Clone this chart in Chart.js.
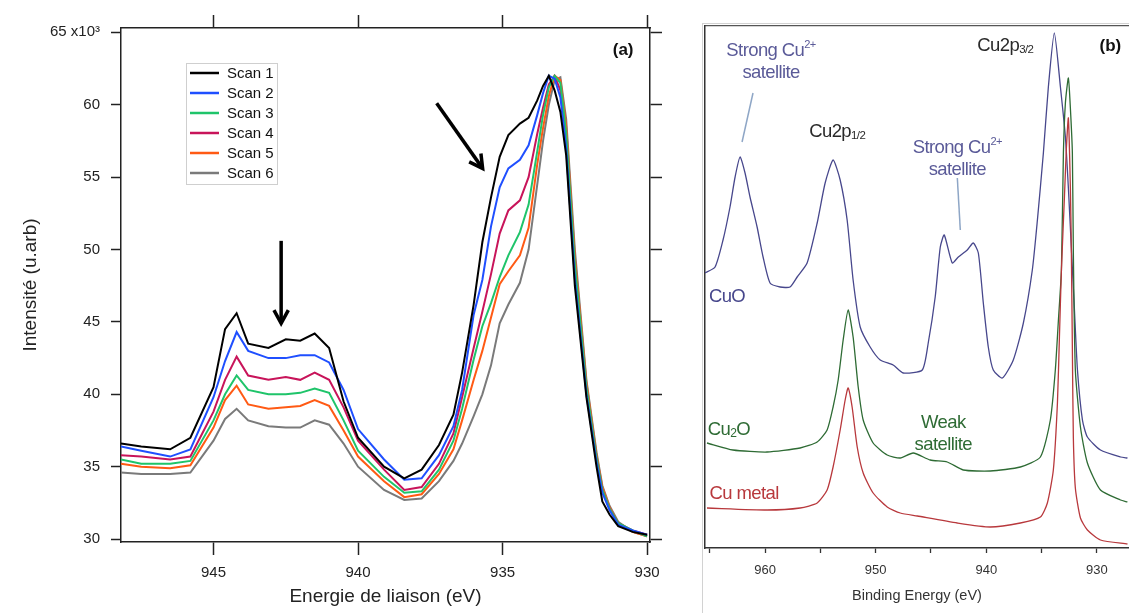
<!DOCTYPE html>
<html>
<head>
<meta charset="utf-8">
<script src="https://cdn.jsdelivr.net/npm/chart.js@4.4.1/dist/chart.umd.min.js"></script>
<style>
  html, body { margin: 0; padding: 0; background: #fff; }
  #wrap { position: relative; width: 1129px; height: 613px; overflow: hidden; }
  #chartA { position: absolute; left: 0; top: 0; }
  #frameB { position: absolute; left: 702px; top: 23px; width: 440px; height: 600px;
            border-left: 1px solid #d2d2d2; border-top: 1px solid #d2d2d2; }
  #chartB { position: absolute; left: 690px; top: 0; }
</style>
</head>
<body>
<div id="wrap">
  <canvas id="chartA" width="690" height="613"></canvas>
  <div id="frameB"></div>
  <canvas id="chartB" width="439" height="613"></canvas>
</div>
<script>
// ---- panel (a) : Cu2p spectra, 6 scans (intensity in x10^3) ----
const energyA = [948.2, 947.5, 946.5, 945.8, 945.0, 944.6, 944.2, 943.8, 943.1, 942.5, 942.0, 941.5, 941.0, 940.5,
  940.0, 939.1, 938.4, 937.8, 937.2, 936.7, 936.4, 936.0, 935.7, 935.4, 935.1, 934.8, 934.4, 934.1, 933.8, 933.6,
  933.4, 933.2, 933.0, 932.8, 932.5, 932.1, 931.75, 931.55, 931.3, 931.0, 930.5, 930.0];

const scan1 = [36.6, 36.4, 36.2, 37.0, 40.5, 44.5, 45.6, 43.5, 43.2, 43.8, 43.7, 44.2, 43.2, 39.5,
  37.0, 35.0, 34.2, 34.8, 36.5, 38.6, 41.5, 46.2, 50.5, 53.6, 56.4, 57.9, 58.7, 59.1, 60.3, 61.3,
  62.0, 61.0, 59.5, 56.5, 47.5, 39.8, 35.0, 32.6, 31.7, 30.9, 30.5, 30.3];
const scan2 = [36.4, 36.1, 35.7, 36.2, 39.8, 42.3, 44.3, 43.0, 42.5, 42.5, 42.7, 42.7, 42.2, 40.3,
  37.6, 35.5, 34.1, 34.2, 35.8, 37.8, 40.3, 45.5, 47.9, 51.6, 54.3, 55.6, 56.2, 57.2, 59.3, 60.8,
  62.0, 61.8, 60.5, 57.0, 48.0, 40.0, 35.3, 33.2, 32.0, 31.0, 30.6, 30.3];
const scan3 = [35.5, 35.2, 35.2, 35.4, 38.2, 40.0, 41.3, 40.3, 40.0, 40.0, 40.1, 40.4, 40.1, 38.2,
  36.1, 34.3, 33.2, 33.3, 34.8, 36.8, 39.0, 42.4, 44.7, 46.3, 48.1, 49.6, 51.2, 53.1, 56.8, 59.3,
  61.2, 62.0, 61.5, 58.0, 49.0, 40.5, 35.6, 33.4, 32.1, 31.1, 30.6, 30.2];
const scan4 = [35.8, 35.7, 35.5, 35.7, 38.8, 41.0, 42.6, 41.3, 41.0, 41.2, 41.0, 41.5, 41.0, 39.1,
  36.8, 34.8, 33.4, 33.6, 35.2, 37.3, 39.8, 43.2, 45.7, 48.3, 51.1, 52.7, 53.4, 55.0, 58.0, 59.8,
  61.4, 62.0, 61.0, 57.5, 48.5, 40.2, 35.5, 33.4, 32.1, 31.1, 30.6, 30.3];
const scan5 = [35.2, 35.0, 34.9, 35.1, 37.7, 39.6, 40.6, 39.3, 39.0, 39.1, 39.2, 39.6, 39.2, 37.5,
  35.7, 34.0, 32.9, 33.1, 34.5, 36.2, 38.2, 41.0, 43.0, 45.3, 47.6, 48.5, 49.6, 51.5, 55.9, 58.4,
  60.6, 62.0, 61.7, 58.5, 49.5, 40.8, 35.8, 33.6, 32.2, 31.1, 30.5, 30.2];
const scan6 = [34.6, 34.5, 34.5, 34.6, 36.8, 38.3, 39.0, 38.2, 37.8, 37.7, 37.7, 38.2, 37.9, 36.6,
  35.0, 33.4, 32.7, 32.8, 34.0, 35.4, 36.6, 38.5, 40.0, 42.0, 44.9, 46.2, 47.7, 50.0, 54.5, 57.5,
  60.0, 61.7, 61.9, 59.0, 50.0, 41.0, 36.0, 33.7, 32.3, 31.2, 30.5, 30.2];

const scanLabels = ['Scan 1', 'Scan 2', 'Scan 3', 'Scan 4', 'Scan 5', 'Scan 6'];
const scanColors = ['#000000', '#1f4fff', '#1fc46a', '#c8145a', '#ff5a14', '#7a7a7a'];
const ticksAx = [945, 940, 935, 930];
const ticksAy = [30, 35, 40, 45, 50, 55, 60, 65];

// arrows drawn in data units (eV, x10^3)
const arrowsA = [
  { from: [942.66, 50.6], to: [942.66, 44.9] },
  { from: [937.28, 60.1], to: [935.69, 55.6] }
];

// ---- panel (b) : reference spectra (arbitrary units) ----
const energyCuO = [965.43, 964.52, 963.80, 963.17, 962.71, 962.26, 961.81, 961.36, 960.72, 960.18, 959.55, 958.64,
  957.74, 957.10, 956.20, 955.29, 954.57, 953.85, 953.21, 952.58, 952.04, 951.40, 950.50, 949.59, 948.42, 947.51,
  945.79, 945.25, 944.62, 944.16, 943.80, 943.08, 942.53, 941.72, 941.18, 940.72, 940.27, 939.82, 939.37, 938.55,
  937.56, 936.65, 935.84, 935.38, 934.84, 934.39, 933.85, 933.30, 932.85, 932.58, 932.31, 932.04, 931.76, 931.31,
  930.86, 929.68, 927.87, 927.24];
const valuesCuO = [275, 281, 308, 341, 371, 391, 375, 351, 321, 291, 265, 261,
  261, 271, 285, 325, 365, 388, 368, 328, 268, 221, 201, 188, 183, 175,
  178, 205, 251, 301, 313, 285, 291, 298, 305, 295, 245, 201, 178, 170,
  188, 225, 278, 328, 395, 461, 515, 461, 411, 360, 300, 240, 178, 128,
  111, 98, 91, 90];
const energyCu2O = [965.25, 962.90, 959.82, 956.83, 955.29, 954.39, 953.85, 953.39, 952.94, 952.49, 952.04, 951.58,
  951.13, 950.23, 948.96, 947.78, 946.61, 945.07, 943.53, 942.08, 939.64, 936.92, 935.11, 934.21, 933.76, 933.48,
  933.21, 933.03, 932.85, 932.58, 932.40, 932.22, 932.13, 931.95, 931.49, 930.86, 929.68, 927.87, 927.24];
const valuesCu2O = [105, 98, 96, 100, 106, 118, 141, 168, 208, 238, 211, 161,
  128, 105, 93, 90, 95, 88, 86, 78, 77, 81, 91, 128, 178, 228,
  278, 395, 445, 470, 440, 395, 295, 178, 121, 85, 58, 48, 46];
const energyCu = [965.25, 959.82, 956.83, 955.29, 954.39, 953.85, 953.21, 952.76, 952.49, 952.13, 951.67, 951.13,
  950.23, 948.96, 947.78, 946.24, 942.62, 939.64, 936.92, 935.11, 934.48, 933.94, 933.57, 933.39, 933.21, 932.94,
  932.76, 932.58, 932.40, 932.31, 932.22, 932.13, 931.95, 931.49, 930.86, 929.68, 927.24];
const valuesCu = [40, 38, 40, 45, 58, 81, 118, 148, 160, 141, 101, 75,
  55, 41, 35, 32, 25, 21, 25, 31, 45, 78, 145, 211, 278, 350,
  400, 430, 360, 295, 200, 110, 60, 30, 18, 8, 4];
const ticksBx = [965, 960, 955, 950, 945, 940, 935, 930];
const labeledBx = [960, 950, 940, 930];

const PURPLE = '#47478c', GREEN = '#2e6b34', RED = '#b8383c';

// text notes of panel (b): parts = [text, size factor, dy]
const notesB = [
  { parts: [['Strong Cu', 1, 0], ['2+', 0.6, -6]], x: 959.46, y: 497, color: '#5a5a98' },
  { parts: [['satellite', 1, 0]], x: 959.46, y: 475, color: '#5a5a98' },
  { parts: [['Cu2p', 1, 0], ['1/2', 0.62, 4]], x: 953.48, y: 416, color: '#2a2a2a' },
  { parts: [['Strong Cu', 1, 0], ['2+', 0.6, -6]], x: 942.62, y: 400, color: '#5a5a98' },
  { parts: [['satellite', 1, 0]], x: 942.62, y: 378, color: '#5a5a98' },
  { parts: [['Cu2p', 1, 0], ['3/2', 0.62, 4]], x: 938.28, y: 502, color: '#2a2a2a' },
  { parts: [['CuO', 1, 0]], x: 963.44, y: 251, color: PURPLE },
  { parts: [['Cu', 1, 0], ['2', 0.65, 4], ['O', 1, 0]], x: 963.26, y: 118, color: GREEN },
  { parts: [['Weak', 1, 0]], x: 943.89, y: 125, color: GREEN },
  { parts: [['satellite', 1, 0]], x: 943.89, y: 103, color: GREEN },
  { parts: [['Cu metal', 1, 0]], x: 961.9, y: 54, color: RED }
];
const leadersB = [
  { from: [961.09, 455], to: [962.08, 406] },
  { from: [942.62, 370], to: [942.35, 318] }
];

Chart.defaults.font.family = '"Liberation Sans", Arial, sans-serif';
const FONT = '"Liberation Sans", Arial, sans-serif';

function toPoints(xs, ys) {
  return xs.map((e, i) => ({ x: e, y: ys[i] }));
}

function drawRich(ctx, parts, cx, cy, color, base) {
  ctx.letterSpacing = '-0.6px';
  let w = 0;
  parts.forEach(p => { ctx.font = (base * p[1]) + 'px ' + FONT; w += ctx.measureText(p[0]).width; });
  let x = cx - w / 2;
  ctx.fillStyle = color;
  ctx.textAlign = 'left';
  ctx.textBaseline = 'middle';
  parts.forEach(p => {
    ctx.font = (base * p[1]) + 'px ' + FONT;
    ctx.fillText(p[0], x, cy + p[2]);
    x += ctx.measureText(p[0]).width;
  });
  ctx.letterSpacing = '0px';
}

// legend box inside panel (a)
const legendBox = {
  id: 'legendBox',
  afterDatasetsDraw(chart) {
    const { ctx, chartArea } = chart;
    const x0 = chartArea.left + 65, y0 = chartArea.top + 35;
    ctx.save();
    ctx.fillStyle = '#fff';
    ctx.fillRect(x0, y0, 91, 121);
    ctx.strokeStyle = '#cfcfcf';
    ctx.lineWidth = 1;
    ctx.strokeRect(x0 + 0.5, y0 + 0.5, 91, 121);
    chart.data.datasets.forEach((ds, i) => {
      const y = y0 + 10 + i * 20;
      ctx.strokeStyle = ds.borderColor;
      ctx.lineWidth = 2.5;
      ctx.beginPath();
      ctx.moveTo(x0 + 4, y);
      ctx.lineTo(x0 + 33, y);
      ctx.stroke();
      ctx.fillStyle = '#111';
      ctx.font = '15px ' + FONT;
      ctx.textAlign = 'left';
      ctx.textBaseline = 'middle';
      ctx.fillText(ds.label, x0 + 41, y + 1);
    });
    ctx.restore();
  }
};

// arrows + "(a)"
const notesA = {
  id: 'notesA',
  afterDatasetsDraw(chart) {
    const { ctx, scales: { x, y } } = chart;
    ctx.save();
    ctx.strokeStyle = '#000';
    ctx.lineWidth = 3.5;
    arrowsA.forEach(a => {
      const x1 = x.getPixelForValue(a.from[0]), y1 = y.getPixelForValue(a.from[1]);
      const x2 = x.getPixelForValue(a.to[0]), y2 = y.getPixelForValue(a.to[1]);
      const ang = Math.atan2(y2 - y1, x2 - x1);
      ctx.beginPath();
      ctx.moveTo(x1, y1);
      ctx.lineTo(x2 - Math.cos(ang), y2 - Math.sin(ang));
      ctx.stroke();
      ctx.beginPath();
      ctx.moveTo(x2 - 15 * Math.cos(ang - 0.5), y2 - 15 * Math.sin(ang - 0.5));
      ctx.lineTo(x2, y2);
      ctx.lineTo(x2 - 15 * Math.cos(ang + 0.5), y2 - 15 * Math.sin(ang + 0.5));
      ctx.stroke();
    });
    ctx.fillStyle = '#111';
    ctx.font = 'bold 17px ' + FONT;
    ctx.textAlign = 'center';
    ctx.textBaseline = 'middle';
    ctx.fillText('(a)', x.getPixelForValue(930.83), y.getPixelForValue(63.77));
    ctx.restore();
  }
};

// labels and leader lines of panel (b)
const notesBPlugin = {
  id: 'notesB',
  afterDatasetsDraw(chart) {
    const { ctx, scales: { x, y } } = chart;
    ctx.save();
    ctx.strokeStyle = '#8ea6c6';
    ctx.lineWidth = 1.5;
    leadersB.forEach(l => {
      ctx.beginPath();
      ctx.moveTo(x.getPixelForValue(l.from[0]), y.getPixelForValue(l.from[1]));
      ctx.lineTo(x.getPixelForValue(l.to[0]), y.getPixelForValue(l.to[1]));
      ctx.stroke();
    });
    notesB.forEach(n => drawRich(ctx, n.parts, x.getPixelForValue(n.x), y.getPixelForValue(n.y), n.color, 18.5));
    ctx.fillStyle = '#111';
    ctx.font = 'bold 17px ' + FONT;
    ctx.textAlign = 'center';
    ctx.textBaseline = 'middle';
    ctx.fillText('(b)', x.getPixelForValue(928.78), y.getPixelForValue(502));
    ctx.restore();
  }
};

// ---------- chart (a) ----------
const axisA = '#222';
const chartA = new Chart(document.getElementById('chartA'), {
  type: 'line',
  data: {
    datasets: [scan1, scan2, scan3, scan4, scan5, scan6].map((s, i) => ({
      label: scanLabels[i],
      data: toPoints(energyA, s),
      borderColor: scanColors[i],
      borderWidth: 2,
      pointRadius: 0,
      fill: false,
      tension: 0
    }))
  },
  options: {
    responsive: false,
    animation: false,
    layout: { padding: 0 },
    plugins: { legend: { display: false }, tooltip: { enabled: false } },
    scales: {
      x: {
        type: 'linear', position: 'bottom', reverse: true, min: 929.9, max: 948.2,
        afterBuildTicks: s => { s.ticks = ticksAx.map(v => ({ value: v })); },
        afterFit: s => { s.height = 71; },
        grid: { drawOnChartArea: false, tickLength: 13, tickColor: axisA, tickWidth: 1.5 },
        border: { color: axisA, width: 1.5 },
        ticks: { font: { size: 15 }, color: axisA, padding: 9, maxRotation: 0 },
        title: { display: true, text: 'Energie de liaison (eV)', font: { size: 19 }, color: axisA,
                 padding: { top: 0, bottom: 5 } }
      },
      x2: {
        type: 'linear', position: 'top', reverse: true, min: 929.9, max: 948.2,
        afterBuildTicks: s => { s.ticks = ticksAx.map(v => ({ value: v })); },
        afterFit: s => { s.height = 28; },
        grid: { drawOnChartArea: false, tickLength: 13, tickColor: axisA, tickWidth: 1.5 },
        border: { color: axisA, width: 1.5 },
        ticks: { display: false }
      },
      y: {
        type: 'linear', position: 'left', min: 29.8, max: 65.3,
        afterBuildTicks: s => { s.ticks = ticksAy.map(v => ({ value: v })); },
        afterFit: s => { s.width = 121; },
        grid: { drawOnChartArea: false, tickLength: 10, tickColor: axisA, tickWidth: 1.5 },
        border: { color: axisA, width: 1.5 },
        ticks: { font: { size: 15 }, color: axisA, padding: 11,
                 callback: v => (v === 65 ? '65 x10\u00B3' : String(v)) },
        title: { display: true, text: 'Intensité (u.arb)', font: { size: 19 }, color: axisA,
                 padding: { top: 19, bottom: 0 } }
      },
      y2: {
        type: 'linear', position: 'right', min: 29.8, max: 65.3,
        afterBuildTicks: s => { s.ticks = ticksAy.map(v => ({ value: v })); },
        afterFit: s => { s.width = 40; },
        grid: { drawOnChartArea: false, tickLength: 12, tickColor: axisA, tickWidth: 1.5 },
        border: { color: axisA, width: 1.5 },
        ticks: { display: false }
      }
    }
  },
  plugins: [legendBox, notesA]
});

// ---------- chart (b) ----------
const axisB = '#333';
const chartB = new Chart(document.getElementById('chartB'), {
  type: 'line',
  data: {
    datasets: [
      { label: 'CuO', data: toPoints(energyCuO, valuesCuO), borderColor: PURPLE, order: 3 },
      { label: 'Cu2O', data: toPoints(energyCu2O, valuesCu2O), borderColor: GREEN, order: 2 },
      { label: 'Cu metal', data: toPoints(energyCu, valuesCu), borderColor: RED, order: 1 }
    ].map(d => Object.assign(d, { borderWidth: 1.3, pointRadius: 0, fill: false, tension: 0.2 }))
  },
  options: {
    responsive: false,
    animation: false,
    layout: { padding: 0 },
    plugins: { legend: { display: false }, tooltip: { enabled: false } },
    scales: {
      x: {
        type: 'linear', position: 'bottom', reverse: true, min: 927.1, max: 965.43,
        afterBuildTicks: s => { s.ticks = ticksBx.map(v => ({ value: v })); },
        afterFit: s => { s.height = 65; },
        grid: { drawOnChartArea: false, tickLength: 5, tickColor: axisB, tickWidth: 1.3 },
        border: { color: axisB, width: 1.5 },
        ticks: { font: { size: 13 }, color: axisB, padding: 10, maxRotation: 0,
                 callback: v => (labeledBx.includes(v) ? String(v) : '') },
        title: { display: true, text: 'Binding Energy (eV)', font: { size: 14.5 }, color: axisB,
                 padding: { top: 0, bottom: 8 } }
      },
      x2: {
        type: 'linear', position: 'top', reverse: true, min: 927.1, max: 965.43,
        afterFit: s => { s.height = 26; },
        grid: { display: false, drawTicks: false },
        border: { color: '#555', width: 1.3 },
        ticks: { display: false }
      },
      y: {
        type: 'linear', position: 'left', min: 0, max: 522,
        afterFit: s => { s.width = 15; },
        grid: { display: false, drawTicks: false },
        border: { color: axisB, width: 1.5 },
        ticks: { display: false }
      }
    }
  },
  plugins: [notesBPlugin]
});
</script>
</body>
</html>
